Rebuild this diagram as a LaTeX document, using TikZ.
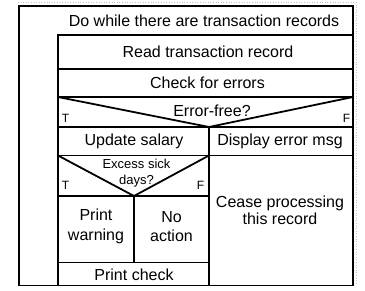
\documentclass[tikz,border=0pt]{standalone}
\usepackage{fontspec}
\setmainfont{Liberation Sans}
\begin{document}
\begin{tikzpicture}[x=1pt,y=-1pt,
  ln/.style={line width=1.8pt,line cap=rect},
  txt/.style={font=\fontsize{16}{18.5}\selectfont,inner sep=0pt,align=center,text=black},
  small/.style={font=\fontsize{13}{15.5}\selectfont,inner sep=0pt,align=center,text=black},
  tf/.style={font=\fontsize{12}{14}\selectfont,inner sep=0pt,text=black}]
\useasboundingbox (0,0) rectangle (365,290);
\draw[black!25,dotted,line width=0.6pt] (18,2) -- (356,2) -- (356,284);
% structure
\draw[ln] (19,6) rectangle (353,285.5);
\draw[ln] (58,35) -- (353,35);
\draw[ln] (58,35) -- (58,285.5);
\draw[ln] (58,69) -- (353,69);
\draw[ln] (58,97) -- (353,97);
\draw[ln] (58,127) -- (353,127);
\draw[ln] (58,97) -- (209,127) -- (353,97);
\draw[ln] (209,127) -- (209,285.5);
\draw[ln] (58,155.5) -- (353,155.5);
\draw[ln] (58,155.5) -- (134,196) -- (209,155.5);
\draw[ln] (58,196) -- (209,196);
\draw[ln] (134,196) -- (134,262.5);
\draw[ln] (58,262.5) -- (209,262.5);
% texts
\node[txt] (loop) at (204,21) {Do while there are transaction records};
\node[txt] (read) at (208,52) {Read transaction record};
\node[txt] (check) at (207.5,83) {Check for errors};
\node[txt] (cond1) at (212,110.5) {Error-free?};
\node[tf] (t1) at (65.5,118) {T};
\node[tf] (f1) at (346.5,118) {F};
\node[txt] (upd) at (134,141) {Update salary};
\node[txt] (disp) at (280,141) {Display error msg};
\node[small] (cond2) at (136.5,173) {Excess sick\\days?};
\node[tf] (t2) at (65.5,185) {T};
\node[tf] (f2) at (200.5,185) {F};
\node[txt,font=\fontsize{16}{19.5}\selectfont] (warn) at (96,226.5) {Print\\warning};
\node[txt,font=\fontsize{16}{19.5}\selectfont] (noact) at (171.5,226.5) {No\\action};
\node[txt,font=\fontsize{16}{17}\selectfont] (cease) at (280,210.5) {Cease processing\\this record};
\node[txt] (pchk) at (134,274.5) {Print check};
\end{tikzpicture}
\end{document}
